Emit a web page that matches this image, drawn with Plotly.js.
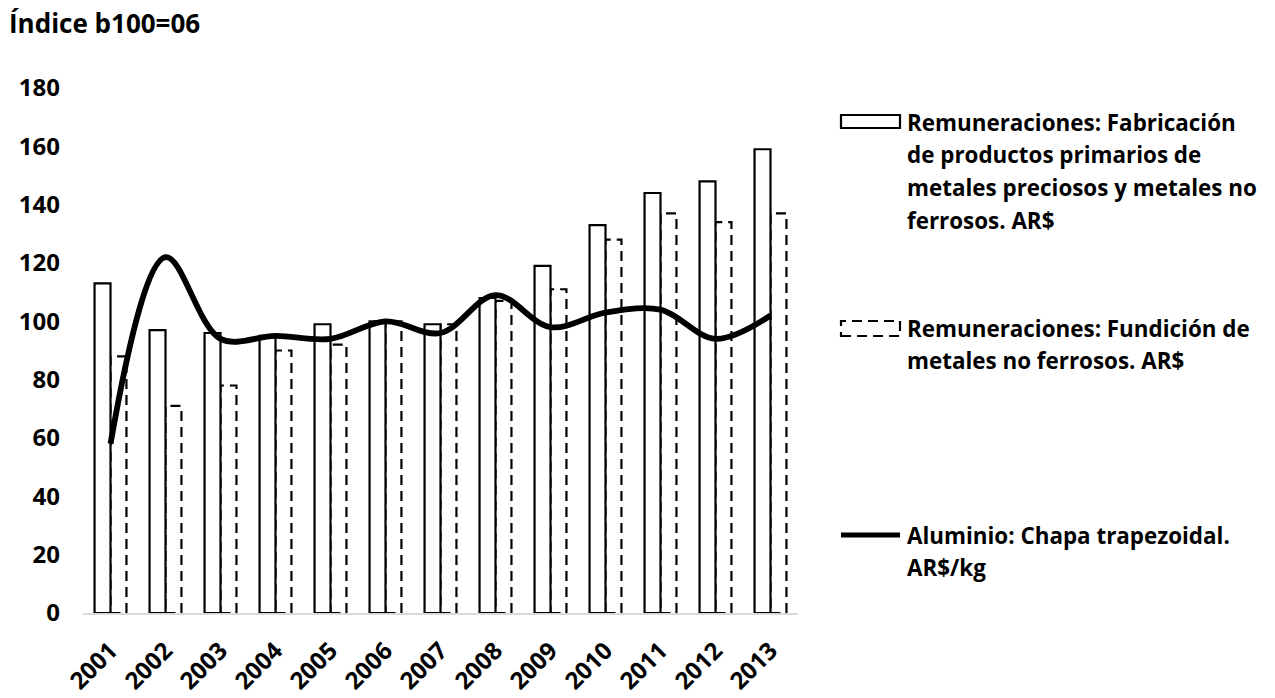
<!DOCTYPE html>
<html>
<head>
<meta charset="utf-8">
<script src="https://cdn.plot.ly/plotly-3.0.1.min.js"></script>
<style>html,body{margin:0;padding:0;background:#fff;}#chart{width:1275px;height:698px;}</style>
</head>
<body>
<div id="chart"></div>
<script>
var years = ["2001","2002","2003","2004","2005","2006","2007","2008","2009","2010","2011","2012","2013"];
var fabricacion = [113, 97, 96, 95, 99, 100, 99, 108, 119, 133, 144, 148, 159];
var fundicion = [88, 71, 78, 90, 92, 100, 99, 107, 111, 128, 137, 134, 137];
var aluminio = [58, 122, 94, 95, 94, 100, 96, 109, 98, 103, 104, 94, 102];
var seriesNames = [
  "Remuneraciones: Fabricación\nde productos primarios de\nmetales preciosos y metales no\nferrosos. AR$",
  "Remuneraciones: Fundición de\nmetales no ferrosos. AR$",
  "Aluminio: Chapa trapezoidal.\nAR$/kg"
];
var yTitle = "Índice b100=06";

var W = 1275, H = 698;
var M = {l: 83, r: 477, t: 88, b: 85};
var FONT = "'Open Sans', 'Noto Sans', sans-serif";
var bargap = 0.42;
var barW = (1 - bargap) / 2;

function px(x){ return (x - M.l) / (W - M.l - M.r); }
function py(y){ return (H - M.b - y) / (H - M.t - M.b); }

var traces = [
  {type: "bar", x: years, y: fabricacion, name: seriesNames[0],
   marker: {color: "#ffffff", line: {color: "#000000", width: 2.2}}, showlegend: false},
  {type: "bar", x: years, y: fundicion, name: seriesNames[1],
   marker: {color: "rgba(255,255,255,0)", line: {color: "rgba(0,0,0,0)", width: 0}}, showlegend: false},
  {type: "scatter", mode: "lines", x: years, y: aluminio, name: seriesNames[2],
   line: {color: "#000000", width: 5.8, shape: "spline", smoothing: 1}, showlegend: false}
];

var shapes = [];
fundicion.forEach(function(v, i){
  shapes.push({type: "rect", xref: "x", yref: "y", x0: i, x1: i + barW, y0: 0, y1: v,
    line: {color: "#000000", width: 2.2, dash: "10px,6px"}, fillcolor: "rgba(0,0,0,0)", layer: "below"});
});

// legend swatches
var swX0 = px(841), swX1 = px(900);
shapes.push({type: "rect", xref: "paper", yref: "paper", x0: swX0, x1: swX1, y0: py(128), y1: py(115),
  line: {color: "#000", width: 2.2}, fillcolor: "#fff"});
shapes.push({type: "rect", xref: "paper", yref: "paper", x0: swX0, x1: swX1, y0: py(336), y1: py(321),
  line: {color: "#000", width: 2.2, dash: "10px,6px"}, fillcolor: "rgba(0,0,0,0)"});
shapes.push({type: "line", xref: "paper", yref: "paper", x0: swX0, x1: swX1, y0: py(535), y1: py(535),
  line: {color: "#000", width: 5}});

var annotations = [];
var legendTop = [122, 328, 535];
var lineGap = 32.7;
seriesNames.forEach(function(name, k){
  name.split("\n").forEach(function(line, j){
    annotations.push({xref: "paper", yref: "paper", x: px(905), y: py(legendTop[k] + j * lineGap),
      xanchor: "left", yanchor: "middle", showarrow: false, text: line, align: "left",
      font: {family: FONT, size: 22.4, color: "#000", weight: 700}});
  });
});

var layout = {
  width: W, height: H,
  margin: M,
  paper_bgcolor: "#ffffff", plot_bgcolor: "#ffffff",
  barmode: "group", bargap: bargap, bargroupgap: 0,
  showlegend: false,
  title: {text: yTitle, x: 9 / W, xanchor: "left", xref: "container", y: 1 - 24 / H, yanchor: "middle", yref: "container",
    font: {family: FONT, size: 26, color: "#000", weight: 700}},
  xaxis: {type: "category", tickangle: -45, ticks: "", showgrid: false, zeroline: false,
    showline: true, linecolor: "#d9d9d9", linewidth: 2, ticklabelstandoff: 12,
    tickfont: {family: FONT, size: 24, color: "#000", weight: 700}},
  yaxis: {range: [0, 180], dtick: 20, tick0: 0, ticks: "", showgrid: false, zeroline: false, showline: false,
    ticklabelstandoff: 22,
    tickfont: {family: FONT, size: 24, color: "#000", weight: 700}},
  shapes: shapes,
  annotations: annotations
};

Plotly.newPlot("chart", traces, layout, {displayModeBar: false, staticPlot: true});
</script>
</body>
</html>
